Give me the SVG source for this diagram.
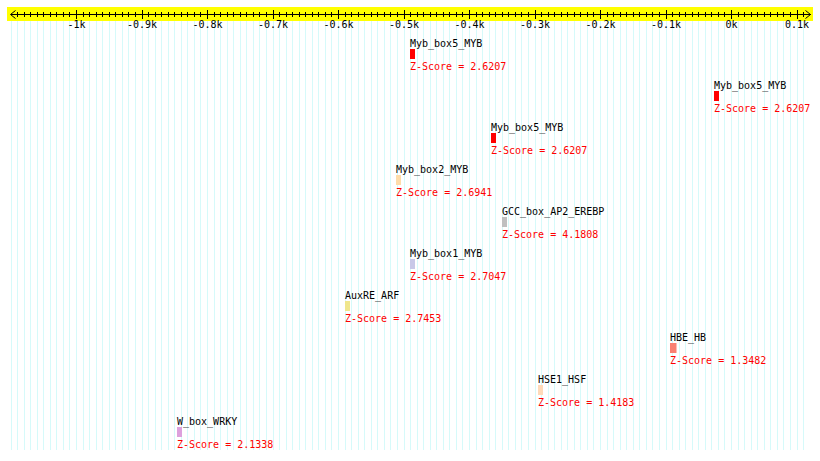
<svg xmlns="http://www.w3.org/2000/svg" width="820" height="461" viewBox="0 0 820 461">
<style>
text{font-family:"DejaVu Sans Mono","Liberation Mono",monospace;font-size:10px}
.lbl{fill:#000}
.z{fill:#ff0000}
.ax{fill:#000;text-anchor:middle}
.grid{stroke:#d6fafa;stroke-width:1;fill:none}
.tk{stroke:#000;stroke-width:1;fill:none}
</style>
<rect x="0" y="0" width="820" height="461" fill="#ffffff"/>
<g id="grid" shape-rendering="crispEdges">
<path class="grid" d="M11 21V450M17.55 21V450M24.1 21V450M30.65 21V450M37.2 21V450M43.75 21V450M50.3 21V450M56.85 21V450M63.4 21V450M69.95 21V450M76.5 21V450M83.05 21V450M89.6 21V450M96.15 21V450M102.7 21V450M109.25 21V450M115.8 21V450M122.35 21V450M128.9 21V450M135.45 21V450M142 21V450M148.55 21V450M155.1 21V450M161.65 21V450M168.2 21V450M174.75 21V450M181.3 21V450M187.85 21V450M194.4 21V450M200.95 21V450M207.5 21V450M214.05 21V450M220.6 21V450M227.15 21V450M233.7 21V450M240.25 21V450M246.8 21V450M253.35 21V450M259.9 21V450M266.45 21V450M273 21V450M279.55 21V450M286.1 21V450M292.65 21V450M299.2 21V450M305.75 21V450M312.3 21V450M318.85 21V450M325.4 21V450M331.95 21V450M338.5 21V450M345.05 21V450M351.6 21V450M358.15 21V450M364.7 21V450M371.25 21V450M377.8 21V450M384.35 21V450M390.9 21V450M397.45 21V450M404 21V450M410.55 21V450M417.1 21V450M423.65 21V450M430.2 21V450M436.75 21V450M443.3 21V450M449.85 21V450M456.4 21V450M462.95 21V450M469.5 21V450M476.05 21V450M482.6 21V450M489.15 21V450M495.7 21V450M502.25 21V450M508.8 21V450M515.35 21V450M521.9 21V450M528.45 21V450M535 21V450M541.55 21V450M548.1 21V450M554.65 21V450M561.2 21V450M567.75 21V450M574.3 21V450M580.85 21V450M587.4 21V450M593.95 21V450M600.5 21V450M607.05 21V450M613.6 21V450M620.15 21V450M626.7 21V450M633.25 21V450M639.8 21V450M646.35 21V450M652.9 21V450M659.45 21V450M666 21V450M672.55 21V450M679.1 21V450M685.65 21V450M692.2 21V450M698.75 21V450M705.3 21V450M711.85 21V450M718.4 21V450M724.95 21V450M731.5 21V450M738.05 21V450M744.6 21V450M751.15 21V450M757.7 21V450M764.25 21V450M770.8 21V450M777.35 21V450M783.9 21V450M790.45 21V450M797 21V450M803.55 21V450"/>
</g>
<g id="axis">
<rect x="7" y="7" width="806" height="14" fill="#ffff00"/>
<g shape-rendering="crispEdges">
<path class="tk" d="M10.5 14.5H810.5"/>
<path class="tk" d="M17.55 11.5V16.5M24.1 11.5V16.5M30.65 11.5V16.5M37.2 11.5V16.5M43.75 11.5V16.5M50.3 11.5V16.5M56.85 11.5V16.5M63.4 11.5V16.5M69.95 11.5V16.5M83.05 11.5V16.5M89.6 11.5V16.5M96.15 11.5V16.5M102.7 11.5V16.5M109.25 11.5V16.5M115.8 11.5V16.5M122.35 11.5V16.5M128.9 11.5V16.5M135.45 11.5V16.5M148.55 11.5V16.5M155.1 11.5V16.5M161.65 11.5V16.5M168.2 11.5V16.5M174.75 11.5V16.5M181.3 11.5V16.5M187.85 11.5V16.5M194.4 11.5V16.5M200.95 11.5V16.5M214.05 11.5V16.5M220.6 11.5V16.5M227.15 11.5V16.5M233.7 11.5V16.5M240.25 11.5V16.5M246.8 11.5V16.5M253.35 11.5V16.5M259.9 11.5V16.5M266.45 11.5V16.5M279.55 11.5V16.5M286.1 11.5V16.5M292.65 11.5V16.5M299.2 11.5V16.5M305.75 11.5V16.5M312.3 11.5V16.5M318.85 11.5V16.5M325.4 11.5V16.5M331.95 11.5V16.5M345.05 11.5V16.5M351.6 11.5V16.5M358.15 11.5V16.5M364.7 11.5V16.5M371.25 11.5V16.5M377.8 11.5V16.5M384.35 11.5V16.5M390.9 11.5V16.5M397.45 11.5V16.5M410.55 11.5V16.5M417.1 11.5V16.5M423.65 11.5V16.5M430.2 11.5V16.5M436.75 11.5V16.5M443.3 11.5V16.5M449.85 11.5V16.5M456.4 11.5V16.5M462.95 11.5V16.5M476.05 11.5V16.5M482.6 11.5V16.5M489.15 11.5V16.5M495.7 11.5V16.5M502.25 11.5V16.5M508.8 11.5V16.5M515.35 11.5V16.5M521.9 11.5V16.5M528.45 11.5V16.5M541.55 11.5V16.5M548.1 11.5V16.5M554.65 11.5V16.5M561.2 11.5V16.5M567.75 11.5V16.5M574.3 11.5V16.5M580.85 11.5V16.5M587.4 11.5V16.5M593.95 11.5V16.5M607.05 11.5V16.5M613.6 11.5V16.5M620.15 11.5V16.5M626.7 11.5V16.5M633.25 11.5V16.5M639.8 11.5V16.5M646.35 11.5V16.5M652.9 11.5V16.5M659.45 11.5V16.5M672.55 11.5V16.5M679.1 11.5V16.5M685.65 11.5V16.5M692.2 11.5V16.5M698.75 11.5V16.5M705.3 11.5V16.5M711.85 11.5V16.5M718.4 11.5V16.5M724.95 11.5V16.5M738.05 11.5V16.5M744.6 11.5V16.5M751.15 11.5V16.5M757.7 11.5V16.5M764.25 11.5V16.5M770.8 11.5V16.5M777.35 11.5V16.5M783.9 11.5V16.5M790.45 11.5V16.5M803.55 11.5V16.5"/>
<path class="tk" d="M76.5 10V19M142 10V19M207.5 10V19M273 10V19M338.5 10V19M404 10V19M469.5 10V19M535 10V19M600.5 10V19M666 10V19M731.5 10V19M797 10V19"/>
</g>
<path class="tk" d="M15.5 10.5L10.5 14.5L15.5 18.5M805.5 10.5L810.5 14.5L805.5 18.5"/>
<text class="ax" x="76.5" y="28">-1k</text>
<text class="ax" x="142" y="28">-0.9k</text>
<text class="ax" x="207.5" y="28">-0.8k</text>
<text class="ax" x="273" y="28">-0.7k</text>
<text class="ax" x="338.5" y="28">-0.6k</text>
<text class="ax" x="404" y="28">-0.5k</text>
<text class="ax" x="469.5" y="28">-0.4k</text>
<text class="ax" x="535" y="28">-0.3k</text>
<text class="ax" x="600.5" y="28">-0.2k</text>
<text class="ax" x="666" y="28">-0.1k</text>
<text class="ax" x="731.5" y="28">0k</text>
<text class="ax" x="797" y="28">0.1k</text>
</g>
<g id="connectors"></g>
<g id="site1">
<text class="lbl" x="410" y="46.5">Myb_box5_MYB</text>
<rect x="410" y="49" width="5" height="10" fill="#ff0000"/>
<text class="z" x="410" y="70">Z-Score = 2.6207</text>
</g>
<g id="site2">
<text class="lbl" x="714" y="88.5">Myb_box5_MYB</text>
<rect x="714" y="91" width="5" height="10" fill="#ff0000"/>
<text class="z" x="714" y="112">Z-Score = 2.6207</text>
</g>
<g id="site3">
<text class="lbl" x="491" y="130.5">Myb_box5_MYB</text>
<rect x="491" y="133" width="5" height="10" fill="#ff0000"/>
<text class="z" x="491" y="154">Z-Score = 2.6207</text>
</g>
<g id="site4">
<text class="lbl" x="396" y="172.5">Myb_box2_MYB</text>
<rect x="396" y="175" width="5" height="10" fill="#fedcaa"/>
<text class="z" x="396" y="196">Z-Score = 2.6941</text>
</g>
<g id="site5">
<text class="lbl" x="502" y="214.5">GCC_box_AP2_EREBP</text>
<rect x="502" y="217" width="5" height="10" fill="#c0c0c0"/>
<text class="z" x="502" y="238">Z-Score = 4.1808</text>
</g>
<g id="site6">
<text class="lbl" x="410" y="256.5">Myb_box1_MYB</text>
<rect x="410" y="259" width="5" height="10" fill="#c8c8e8"/>
<text class="z" x="410" y="280">Z-Score = 2.7047</text>
</g>
<g id="site7">
<text class="lbl" x="345" y="298.5">AuxRE_ARF</text>
<rect x="345" y="301" width="5" height="10" fill="#f0e68c"/>
<text class="z" x="345" y="322">Z-Score = 2.7453</text>
</g>
<g id="site8">
<text class="lbl" x="670" y="340.5">HBE_HB</text>
<rect x="670" y="343" width="6.5" height="10" fill="#fa8072"/>
<text class="z" x="670" y="364">Z-Score = 1.3482</text>
</g>
<g id="site9">
<text class="lbl" x="538" y="382.5">HSE1_HSF</text>
<rect x="538" y="385" width="5" height="10" fill="#ffdab9"/>
<text class="z" x="538" y="406">Z-Score = 1.4183</text>
</g>
<g id="site10">
<text class="lbl" x="177" y="424.5">W_box_WRKY</text>
<rect x="177" y="427" width="5" height="10" fill="#dda0dd"/>
<text class="z" x="177" y="448">Z-Score = 2.1338</text>
</g>
</svg>
